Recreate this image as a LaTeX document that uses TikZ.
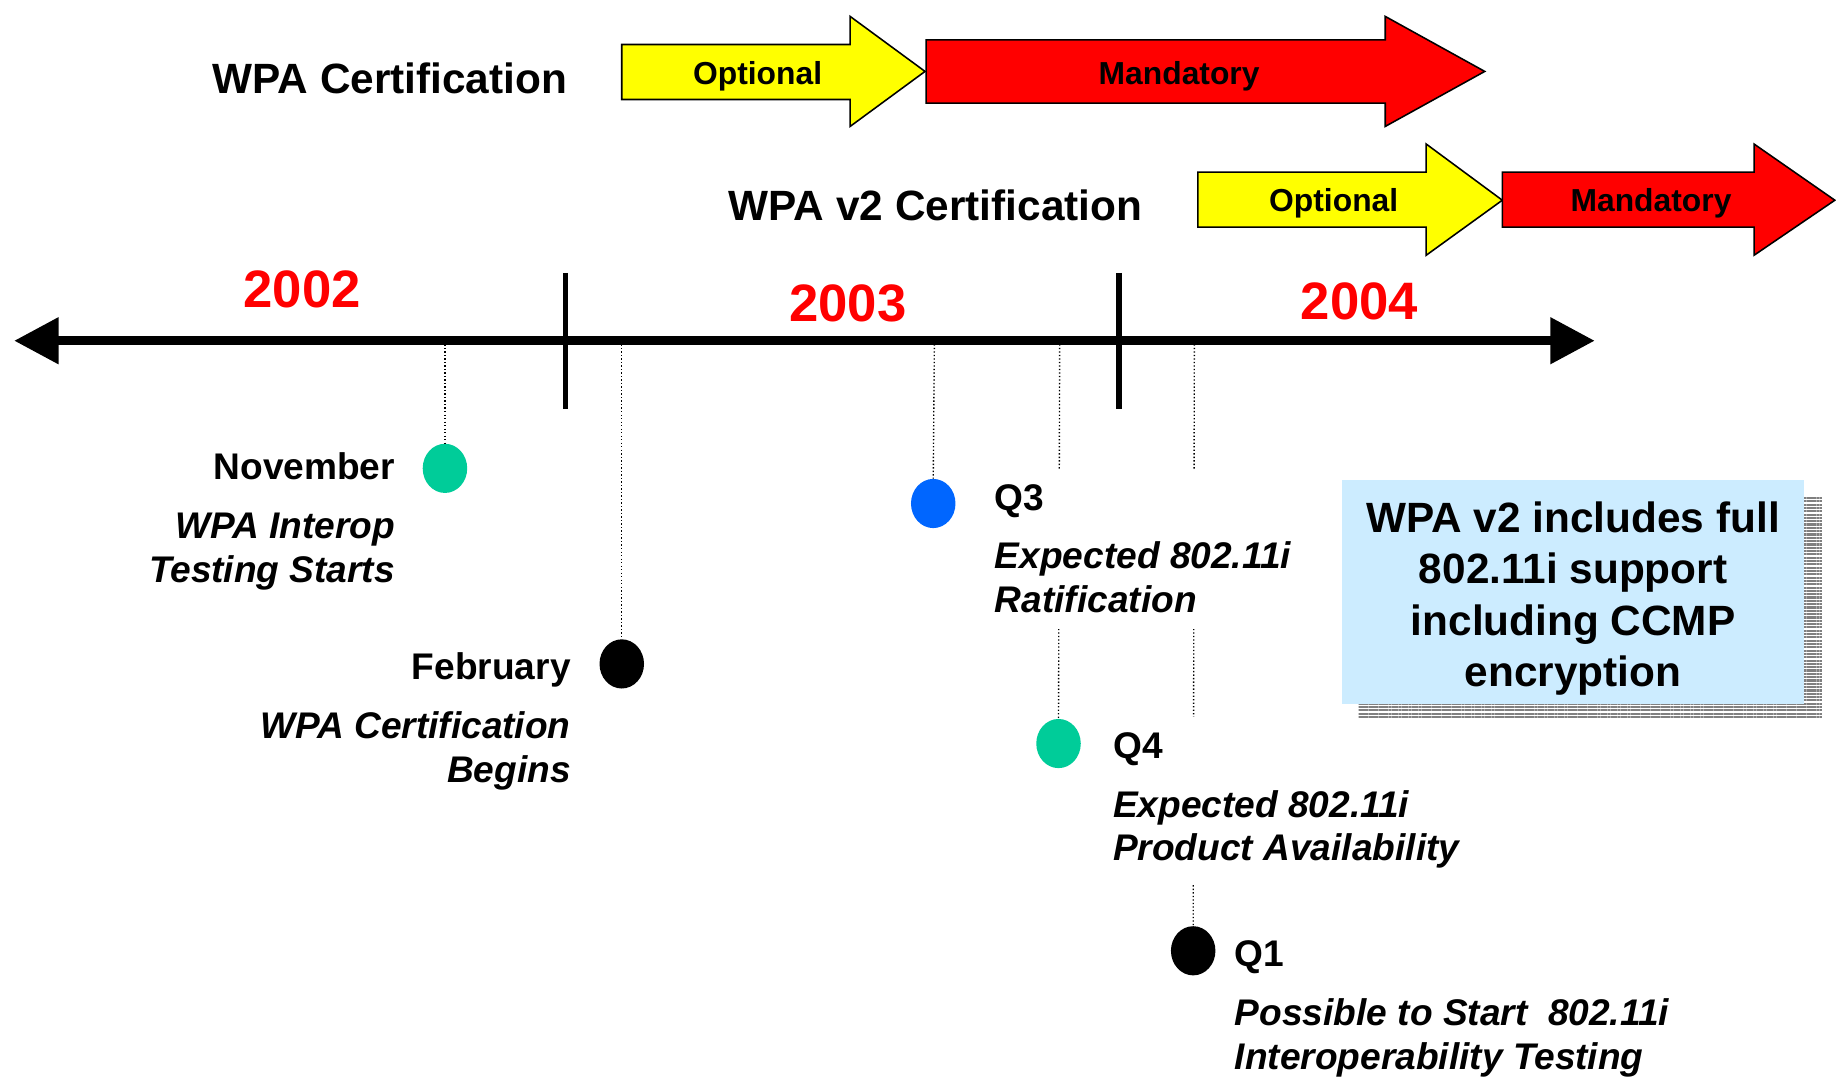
\documentclass[tikz,border=0pt]{standalone}
\usepackage{fontspec}
\setmainfont{Liberation Sans}
\usetikzlibrary{arrows.meta,shapes.geometric,patterns.meta}
\definecolor{optyellow}{RGB}{255,255,0}
\definecolor{mandred}{RGB}{255,0,0}
\definecolor{dotgreen}{RGB}{0,204,153}
\definecolor{dotblue}{RGB}{0,102,255}
\definecolor{noteblue}{RGB}{204,236,255}
\begin{document}
\begin{tikzpicture}[x=0.6pt,y=-0.6pt,
  title/.style={font=\bfseries\fontsize{21.7}{26}\selectfont},
  arrowtext/.style={font=\bfseries\fontsize{16.3}{19}\selectfont},
  yearlabel/.style={text=mandred,font=\bfseries\fontsize{27}{32}\selectfont},
  milestone/.style={fill=white,inner sep=8pt,font=\bfseries\fontsize{19}{22.5}\selectfont},
  evtdot/.style={ellipse,minimum width=22.8pt,minimum height=25.2pt,inner sep=0pt},
  guide/.style={line width=0.7pt,dash pattern=on 0.7pt off 1.1pt},
  bar/.style={draw=black,line width=0.8pt}]
\useasboundingbox (0,0) rectangle (1568,924);

% certification phases
\node[title] (wpa) at (333,67) {WPA Certification};
\draw[bar,fill=optyellow] (531,38) -- (726,38) -- (726,14) -- (790,61) -- (726,108) -- (726,85) -- (531,85) -- cycle;
\node[arrowtext] (opt1) at (647,65) {Optional};
\draw[bar,fill=mandred] (791,34) -- (1183,34) -- (1183,14) -- (1268,61) -- (1183,108) -- (1183,88) -- (791,88) -- cycle;
\node[arrowtext] (mand1) at (1007,65) {Mandatory};

\node[title] (wpa2) at (799,175) {WPA v2 Certification};
\draw[bar,fill=optyellow] (1023,147) -- (1218,147) -- (1218,123) -- (1283,171) -- (1218,218) -- (1218,194) -- (1023,194) -- cycle;
\node[arrowtext] (opt2) at (1139,174) {Optional};
\draw[bar,fill=mandred] (1283,147) -- (1498,147) -- (1498,123) -- (1567,171) -- (1498,218) -- (1498,194) -- (1283,194) -- cycle;
\node[arrowtext] (mand2) at (1410,174) {Mandatory};

% points on the time line
\coordinate (past) at (12,291);
\coordinate (future) at (1362,291);
\coordinate (nov axis) at (380,291);
\coordinate (feb axis) at (531,291);
\coordinate (q3 axis) at (798,291);
\coordinate (q4 axis) at (905,291);
\coordinate (q1 axis) at (1020,291);

\node[evtdot,fill=dotgreen] (nov) at (380,400) {};
\node[evtdot,fill=black] (feb) at (531,567) {};
\node[evtdot,fill=dotblue] (q3) at (797,430) {};
\node[evtdot,fill=dotgreen] (q4) at (904,635) {};
\node[evtdot,fill=black] (q1) at (1019,812) {};

\draw[guide] (nov axis) -- (nov.north);
\draw[guide] (feb axis) -- (feb.north);
\draw[guide] (q3 axis) -- (q3.north);
\draw[guide] (q4 axis) -- (q4.north);
\draw[guide] (q1 axis) -- (q1.north);

\draw[line width=4.8pt,{Triangle[length=22.8pt,width=22.8pt]}-{Triangle[length=22.8pt,width=22.8pt]}] (past) -- (future);
\draw[line width=3pt] (483,233) -- (483,349);
\draw[line width=3pt] (956,233) -- (956,349);

\node[yearlabel] (y2002) at (258,247) {2002};
\node[yearlabel] (y2003) at (724,259) {2003};
\node[yearlabel] (y2004) at (1161,257) {2004};

% milestone texts
\node[milestone,align=right,anchor=north east] (nov text) at (351,373)
  {November\\[7.5pt]\textit{WPA Interop}\\\textit{Testing Starts}};
\node[milestone,align=right,anchor=north east] (feb text) at (501,544)
  {February\\[7.5pt]\textit{WPA Certification}\\\textit{Begins}};
\node[milestone,align=left,anchor=north west] (q3 text) at (836,400)
  {Q3\\[7.5pt]\textit{Expected 802.11i}\\\textit{Ratification}};
\node[milestone,align=left,anchor=north west] (q4 text) at (937,612)
  {Q4\\[7.5pt]\textit{Expected 802.11i}\\\textit{Product Availability}};
\node[milestone,align=left,anchor=north west] (q1 text) at (1041,790)
  {Q1\\[7.5pt]\textit{Possible to Start\ \ 802.11i}\\\textit{Interoperability Testing}};

% note box
\fill[pattern={Lines[angle=0,distance=1.7pt,line width=1.1pt]},pattern color=gray] (1160,424) rectangle (1556,614);
\node[fill=noteblue,minimum width=237pt,minimum height=114.6pt,inner sep=0pt] (note) at (1343.5,505.5) {};
\node[align=center,font=\bfseries\fontsize{21.7}{26.4}\selectfont] (note text) at (1343.5,511)
  {WPA v2 includes full\\802.11i support\\including CCMP\\encryption};
\end{tikzpicture}
\end{document}
